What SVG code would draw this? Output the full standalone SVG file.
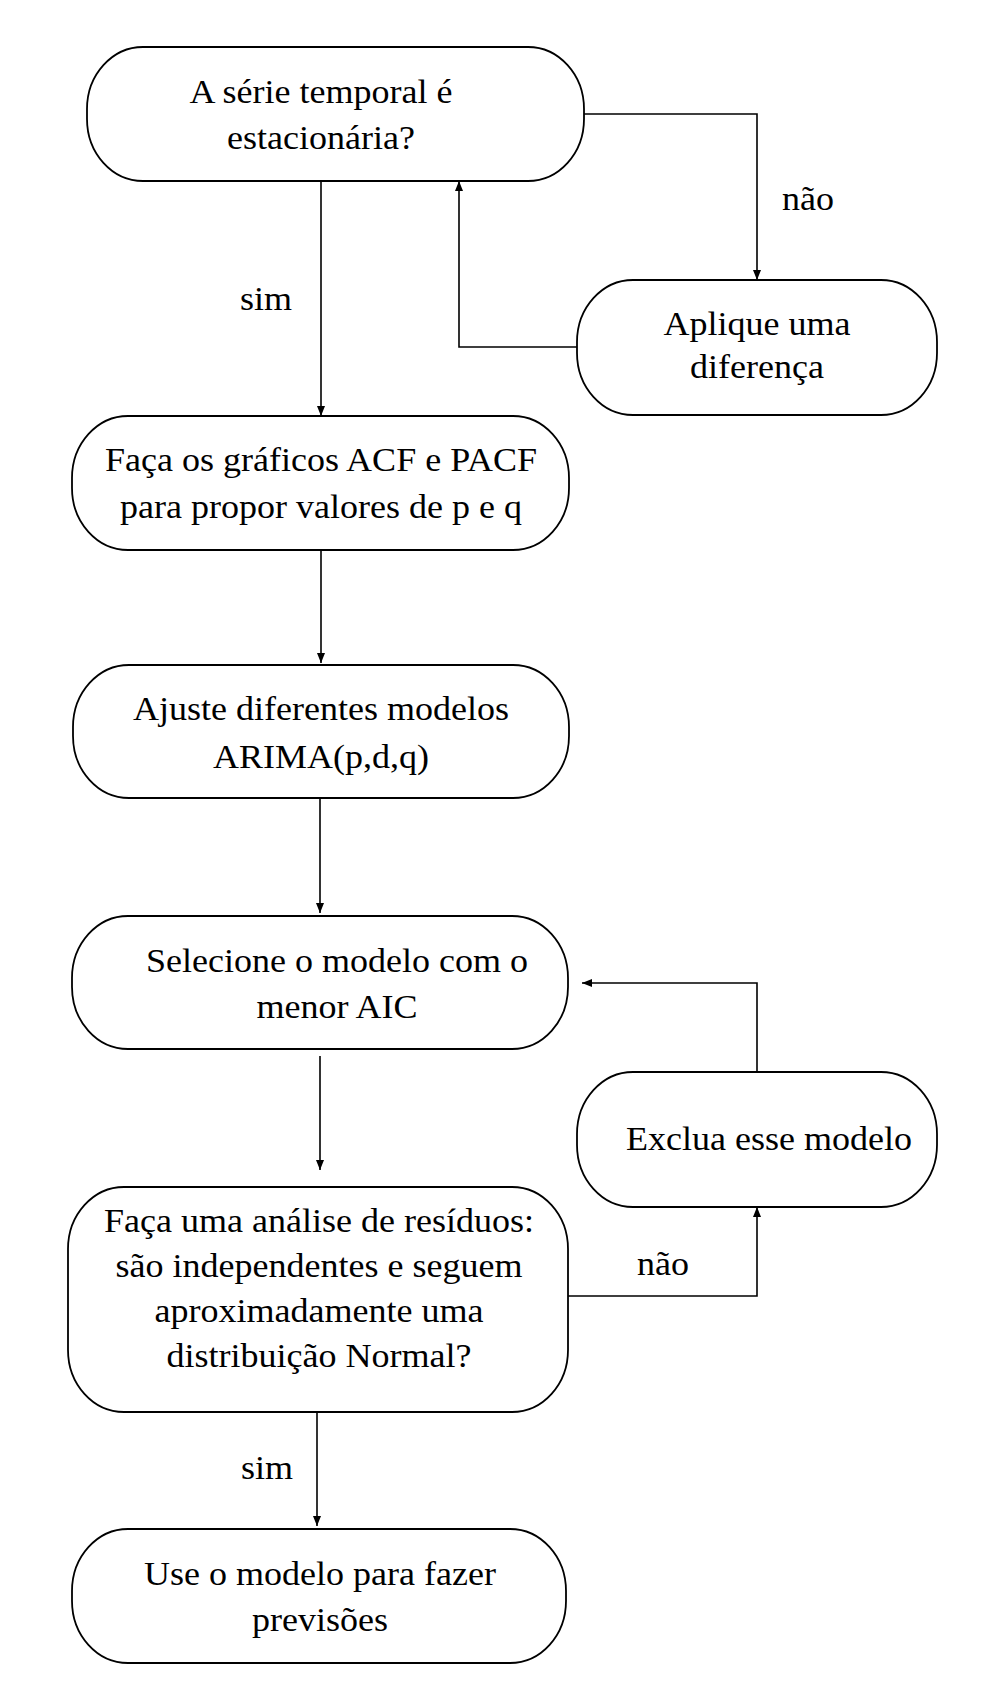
<svg xmlns="http://www.w3.org/2000/svg" width="994" height="1702" viewBox="0 0 994 1702">
<style>
.box{fill:#fff;stroke:#000;stroke-width:1.8}
.t{font-family:"Liberation Serif","Times New Roman",serif;font-size:34px;fill:#000;text-anchor:middle}
.c{fill:none;stroke:#000;stroke-width:1.6}
</style>
<defs>
<marker id="ah" markerUnits="userSpaceOnUse" markerWidth="10" markerHeight="8" refX="10" refY="4" orient="auto">
<path d="M0,0 L10,4 L0,8 z" fill="#000"/>
</marker>
</defs>
<rect width="994" height="1702" fill="#fff"/>
<g id="connectors">
<polyline class="c" points="584,114 757,114 757,280" marker-end="url(#ah)"/>
<polyline class="c" points="577,347 459,347 459,181" marker-end="url(#ah)"/>
<line class="c" x1="321" y1="181" x2="321" y2="416" marker-end="url(#ah)"/>
<line class="c" x1="321" y1="550" x2="321" y2="663" marker-end="url(#ah)"/>
<line class="c" x1="320" y1="798" x2="320" y2="913" marker-end="url(#ah)"/>
<line class="c" x1="320" y1="1056" x2="320" y2="1170" marker-end="url(#ah)"/>
<polyline class="c" points="757,1072 757,983 582,983" marker-end="url(#ah)"/>
<polyline class="c" points="568,1296 757,1296 757,1207" marker-end="url(#ah)"/>
<line class="c" x1="317" y1="1412" x2="317" y2="1526" marker-end="url(#ah)"/>
<text class="t" transform="translate(808,0) scale(1.06,1)" x="0" y="210">não</text>
<text class="t" transform="translate(266,0) scale(1.06,1)" x="0" y="310">sim</text>
<text class="t" transform="translate(663,0) scale(1.06,1)" x="0" y="1275">não</text>
<text class="t" transform="translate(267,0) scale(1.06,1)" x="0" y="1479">sim</text>
</g>
<g id="n1">
<rect class="box" x="87" y="47" width="497" height="134" rx="56" ry="62"/>
<text class="t" transform="translate(321,0) scale(1.06,1)" x="0" y="103">A série temporal é</text>
<text class="t" transform="translate(321,0) scale(1.06,1)" x="0" y="149">estacionária?</text>
</g>
<g id="n2">
<rect class="box" x="577" y="280" width="360" height="135" rx="56" ry="62"/>
<text class="t" transform="translate(757,0) scale(1.06,1)" x="0" y="335">Aplique uma</text>
<text class="t" transform="translate(757,0) scale(1.06,1)" x="0" y="378">diferença</text>
</g>
<g id="n3">
<rect class="box" x="72" y="416" width="497" height="134" rx="56" ry="62"/>
<text class="t" transform="translate(321,0) scale(1.06,1)" x="0" y="471">Faça os gráficos ACF e PACF</text>
<text class="t" transform="translate(321,0) scale(1.06,1)" x="0" y="518">para propor valores de p e q</text>
</g>
<g id="n4">
<rect class="box" x="73" y="665" width="496" height="133" rx="56" ry="62"/>
<text class="t" transform="translate(321,0) scale(1.06,1)" x="0" y="720">Ajuste diferentes modelos</text>
<text class="t" transform="translate(321,0) scale(1.06,1)" x="0" y="768">ARIMA(p,d,q)</text>
</g>
<g id="n5">
<rect class="box" x="72" y="916" width="496" height="133" rx="56" ry="62"/>
<text class="t" transform="translate(337,0) scale(1.06,1)" x="0" y="972">Selecione o modelo com o</text>
<text class="t" transform="translate(337,0) scale(1.06,1)" x="0" y="1018">menor AIC</text>
</g>
<g id="n6">
<rect class="box" x="577" y="1072" width="360" height="135" rx="56" ry="62"/>
<text class="t" transform="translate(769,0) scale(1.06,1)" x="0" y="1150">Exclua esse modelo</text>
</g>
<g id="n7">
<rect class="box" x="68" y="1187" width="500" height="225" rx="56" ry="62"/>
<text class="t" transform="translate(319,0) scale(1.06,1)" x="0" y="1232">Faça uma análise de resíduos:</text>
<text class="t" transform="translate(319,0) scale(1.06,1)" x="0" y="1277">são independentes e seguem</text>
<text class="t" transform="translate(319,0) scale(1.06,1)" x="0" y="1322">aproximadamente uma</text>
<text class="t" transform="translate(319,0) scale(1.06,1)" x="0" y="1367">distribuição Normal?</text>
</g>
<g id="n8">
<rect class="box" x="72" y="1529" width="494" height="134" rx="56" ry="62"/>
<text class="t" transform="translate(320,0) scale(1.06,1)" x="0" y="1585">Use o modelo para fazer</text>
<text class="t" transform="translate(320,0) scale(1.06,1)" x="0" y="1631">previsões</text>
</g>
</svg>
